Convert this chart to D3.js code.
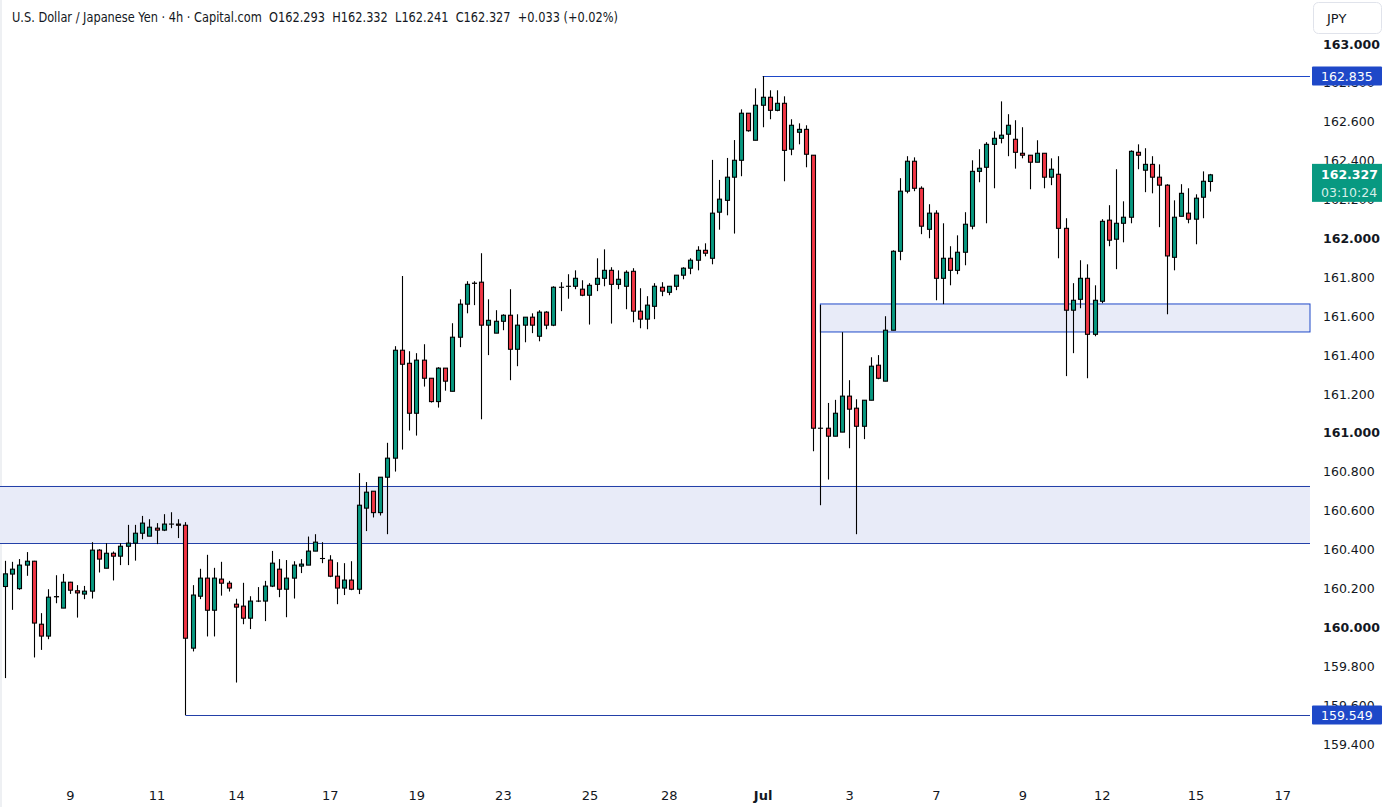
<!DOCTYPE html>
<html>
<head>
<meta charset="utf-8">
<script src="https://cdn.jsdelivr.net/npm/d3@7"></script>
<style>
  html, body { margin: 0; padding: 0; background: #fff; }
  svg { display: block; font-family: "DejaVu Sans", sans-serif; }
</style>
</head>
<body>
<div id="chart"></div>
<script>
const width = 1386;
const height = 807;

// OHLC data, 4h candles
const opens = [160.210,160.274,160.199,160.320,160.340,160.016,159.955,160.158,160.099,160.232,
160.188,160.171,160.186,160.397,160.304,160.381,160.366,160.417,160.433,160.484,
160.469,160.510,160.500,160.531,160.531,160.525,159.893,160.160,160.253,160.088,
160.248,160.227,160.119,160.109,160.047,160.135,160.135,160.212,160.299,160.196,
160.253,160.315,160.320,160.392,160.354,160.346,160.263,160.202,160.243,160.196,
160.613,160.700,160.590,160.772,160.870,161.425,161.358,161.101,161.374,161.281,
161.161,161.333,161.214,161.492,161.662,161.770,161.775,161.554,161.513,161.574,
161.605,161.430,161.554,161.595,161.497,161.621,161.554,161.749,161.754,161.754,
161.739,161.708,161.764,161.795,161.836,161.764,161.754,161.831,161.626,161.585,
161.651,161.749,161.723,161.754,161.811,161.847,161.888,161.939,161.898,162.135,
162.196,162.315,162.402,162.644,162.505,162.685,162.726,162.659,162.695,162.459,
162.546,162.561,162.428,161.024,161.024,160.983,161.004,161.189,161.127,161.034,
161.168,161.348,161.266,161.528,161.934,162.243,162.397,162.258,162.047,162.130,
161.795,161.898,161.836,161.929,162.063,162.345,162.366,162.484,162.515,162.536,
162.510,162.438,162.428,162.392,162.438,162.315,162.330,162.052,161.631,161.687,
161.795,161.507,161.677,162.094,161.996,162.078,162.109,162.443,162.351,162.381,
162.315,162.274,161.903,162.114,162.130,162.099,162.212,162.293];

const highs = [160.342,160.337,160.351,160.387,160.342,160.073,160.196,160.268,160.275,160.234,
160.217,160.213,160.438,160.402,160.433,160.390,160.433,160.527,160.527,160.573,
160.556,160.536,160.582,160.592,160.556,160.541,160.217,160.301,160.373,160.306,
160.337,160.239,160.147,160.229,160.160,160.207,160.239,160.393,160.351,160.346,
160.340,160.351,160.467,160.479,160.438,160.371,160.335,160.330,160.340,160.793,
160.747,160.700,160.772,160.949,161.446,161.807,161.420,161.410,161.456,161.281,
161.338,161.333,161.564,161.687,161.780,161.780,161.924,161.687,161.631,161.610,
161.739,161.610,161.595,161.615,161.631,161.626,161.754,161.775,161.816,161.836,
161.785,161.770,161.898,161.944,161.852,161.836,161.836,161.847,161.744,161.703,
161.770,161.775,161.754,161.811,161.852,161.898,161.960,161.975,162.404,162.301,
162.414,162.506,162.664,162.644,162.772,162.835,162.762,162.762,162.731,162.613,
162.592,162.582,162.428,161.658,161.154,161.170,161.518,161.271,161.173,161.168,
161.389,161.400,161.600,161.939,162.310,162.423,162.417,162.268,162.176,162.145,
162.078,161.960,162.016,162.135,162.402,162.459,162.495,162.551,162.705,162.639,
162.608,162.572,162.428,162.505,162.438,162.412,162.423,162.104,161.770,161.888,
161.867,161.759,162.099,162.171,162.356,162.191,162.453,162.484,162.464,162.423,
162.381,162.279,162.196,162.279,162.258,162.227,162.345,162.332];

const lows = [159.739,160.090,160.193,160.265,159.845,159.884,159.939,160.124,160.099,160.172,
160.050,160.145,160.148,160.282,160.304,160.241,160.320,160.320,160.343,160.453,
160.469,160.428,160.495,160.510,160.459,159.549,159.876,160.145,159.953,159.953,
160.163,160.184,159.716,160.016,159.991,160.130,160.032,160.207,160.155,160.052,
160.148,160.279,160.320,160.392,160.330,160.258,160.119,160.166,160.191,160.171,
160.495,160.565,160.575,160.479,160.801,160.914,161.012,160.986,161.238,161.156,
161.130,161.217,161.214,161.441,161.615,161.657,161.070,161.400,161.513,161.528,
161.271,161.343,161.466,161.513,161.471,161.533,161.549,161.626,161.690,161.739,
161.703,161.557,161.729,161.754,161.562,161.739,161.636,161.569,161.538,161.533,
161.585,161.703,161.708,161.734,161.790,161.816,161.836,161.908,161.867,162.045,
162.119,162.025,162.320,162.549,162.505,162.572,162.613,162.654,162.294,162.428,
162.484,162.366,160.906,160.628,160.760,160.983,161.004,160.921,160.479,160.968,
161.168,161.276,161.266,161.528,161.888,162.232,162.243,162.022,162.001,161.682,
161.662,161.759,161.816,161.862,162.047,162.289,162.078,162.258,162.489,162.423,
162.359,162.412,162.253,162.392,162.258,162.274,161.898,161.292,161.410,161.641,
161.281,161.497,161.667,161.960,161.842,161.980,162.078,162.356,162.238,162.232,
162.058,161.610,161.836,162.114,162.078,161.970,162.104,162.241];

const closes = [160.275,160.299,160.320,160.340,160.022,159.955,160.155,160.157,160.232,160.191,
160.177,160.186,160.397,160.351,160.381,160.366,160.417,160.433,160.484,160.536,
160.515,160.500,160.531,160.531,160.525,159.944,160.166,160.253,160.088,160.253,
160.227,160.202,160.104,160.047,160.135,160.135,160.212,160.330,160.196,160.253,
160.320,160.325,160.392,160.438,160.354,160.263,160.202,160.243,160.196,160.628,
160.695,160.590,160.772,160.870,161.425,161.353,161.101,161.374,161.281,161.161,
161.333,161.266,161.492,161.662,161.764,161.769,161.554,161.579,161.574,161.605,
161.430,161.554,161.595,161.554,161.621,161.554,161.749,161.749,161.754,161.795,
161.708,161.759,161.795,161.836,161.764,161.790,161.826,161.626,161.585,161.657,
161.754,161.729,161.754,161.811,161.847,161.888,161.939,161.924,162.130,162.202,
162.315,162.402,162.644,162.554,162.685,162.726,162.659,162.695,162.453,162.582,
162.561,162.433,161.024,161.024,160.983,161.101,161.189,161.122,161.034,161.168,
161.343,161.281,161.528,161.934,162.243,162.397,162.258,162.063,162.130,161.795,
161.898,161.836,161.929,162.073,162.345,162.361,162.484,162.515,162.531,162.582,
162.443,162.428,162.392,162.438,162.315,162.356,162.052,161.631,161.682,161.795,
161.507,161.682,162.088,161.991,162.078,162.109,162.448,162.428,162.381,162.315,
162.274,161.910,162.109,162.232,162.099,162.207,162.294,162.327];

// x-axis date labels (bar index of first candle of the day)
const dayTicks = [9, 21, 32, 45, 57, 69, 81, 92, 105, 117, 129, 141, 152, 165, 177];
const dayLabels = ["9", "11", "14", "17", "19", "23", "25", "28", "Jul", "3", "7", "9", "12", "15", "17"];

// price ticks
const priceTicks = d3.range(159.4, 163.0001, 0.2);

// drawings: zones and levels
const lowerZone = [160.434, 160.728];
const upperZone = [161.519, 161.663];
const upperZoneStart = 113;
const highLevel = { price: 162.835, from: 105 };
const lowLevel = { price: 159.549, from: 25 };
const lastPrice = 162.327;
const countdown = "03:10:24";

const titleText = "U.S. Dollar / Japanese Yen · 4h · Capital.com  O162.293  H162.332  L162.241  C162.327  +0.033 (+0.02%)";

const candles = opens.map((o, i) => ({ i, o, h: highs[i], l: lows[i], c: closes[i] }));

const plotRight = 1310;
const x = d3.scaleLinear().domain([0, 167]).range([5, 1210]);
const y = d3.scaleLinear().domain([159.4, 163]).range([744, 44]);

const up = "#089981", down = "#f23645", lineBlue = "#1e48c8", zoneFill = "#e8ebf8";

const svg = d3.select("#chart")
  .append("svg")
  .attr("width", width)
  .attr("height", height)
  .attr("viewBox", `0 0 ${width} ${height}`);

svg.append("rect").attr("width", width).attr("height", height).attr("fill", "#fff");
svg.append("rect").attr("x", 0).attr("y", 0).attr("width", 2).attr("height", height).attr("fill", "#eef0f3");

// zones
svg.append("rect")
  .attr("x", 0).attr("width", plotRight)
  .attr("y", y(lowerZone[1])).attr("height", y(lowerZone[0]) - y(lowerZone[1]))
  .attr("fill", zoneFill);
[lowerZone[0], lowerZone[1]].forEach(p => {
  svg.append("line").attr("x1", 0).attr("x2", plotRight)
    .attr("y1", Math.round(y(p)) + 0.5).attr("y2", Math.round(y(p)) + 0.5)
    .attr("stroke", "#2340a8").attr("stroke-width", 1);
});

svg.append("rect")
  .attr("x", x(upperZoneStart)).attr("width", plotRight - x(upperZoneStart))
  .attr("y", y(upperZone[1])).attr("height", y(upperZone[0]) - y(upperZone[1]))
  .attr("fill", zoneFill)
  .attr("stroke", lineBlue).attr("stroke-width", 1);

// level lines
[highLevel, lowLevel].forEach(lv => {
  svg.append("line")
    .attr("x1", x(lv.from)).attr("x2", plotRight)
    .attr("y1", Math.round(y(lv.price)) + 0.5).attr("y2", Math.round(y(lv.price)) + 0.5)
    .attr("stroke", lv === lowLevel ? "#2340a8" : lineBlue).attr("stroke-width", 1);
});

// candles
const g = svg.append("g");
g.selectAll("line.wick")
  .data(candles)
  .join("line")
  .attr("class", "wick")
  .attr("x1", d => Math.round(x(d.i)) + 0.5)
  .attr("x2", d => Math.round(x(d.i)) + 0.5)
  .attr("y1", d => y(d.h))
  .attr("y2", d => y(d.l))
  .attr("stroke", "#000")
  .attr("stroke-width", 1.1);

g.selectAll("rect.body")
  .data(candles)
  .join("rect")
  .attr("class", "body")
  .attr("x", d => Math.round(x(d.i)) - 1.5)
  .attr("width", 4)
  .attr("y", d => y(Math.max(d.o, d.c)))
  .attr("height", d => Math.max(0.01, Math.abs(y(d.o) - y(d.c))))
  .attr("fill", d => d.c >= d.o ? up : down)
  .attr("stroke", "#000")
  .attr("stroke-width", 1.1);

// y axis
const yAxis = svg.append("g")
  .attr("transform", `translate(${1318},0)`)
  .call(d3.axisRight(y).tickValues(priceTicks).tickSize(0).tickPadding(5).tickFormat(d3.format(".3f")));
yAxis.select(".domain").remove();
yAxis.selectAll("text")
  .attr("font-family", "DejaVu Sans, sans-serif")
  .attr("font-size", 12.5)
  .attr("fill", "#131722")
  .attr("font-weight", d => Math.abs(d - Math.round(d)) < 1e-6 ? "bold" : "normal");

// x axis
const xAxis = svg.append("g")
  .attr("transform", `translate(0,${785})`)
  .call(d3.axisBottom(x).tickValues(dayTicks).tickSize(0).tickPadding(6)
    .tickFormat((d, k) => dayLabels[k]));
xAxis.select(".domain").remove();
xAxis.selectAll("text")
  .attr("font-family", "DejaVu Sans, sans-serif")
  .attr("font-size", 13)
  .attr("fill", "#131722")
  .attr("font-weight", (d, k) => dayLabels[k] === "Jul" ? "bold" : "normal");

// price labels on the axis
function priceTag(p, fill) {
  const cy = y(p);
  svg.append("rect").attr("x", 1312).attr("y", cy - 9.5).attr("width", 70).attr("height", 19)
    .attr("fill", fill).attr("rx", 1);
  svg.append("text").attr("x", 1321).attr("y", cy).attr("dy", "0.36em")
    .attr("font-size", 12.5).attr("fill", "#fff").text(p.toFixed(3));
}
priceTag(highLevel.price, lineBlue);
priceTag(lowLevel.price, lineBlue);

// last price tag with countdown
{
  const cy = y(lastPrice);
  svg.append("rect").attr("x", 1312).attr("y", cy - 11).attr("width", 70).attr("height", 38)
    .attr("fill", up);
  svg.append("text").attr("x", 1321).attr("y", cy).attr("dy", "0.36em")
    .attr("font-size", 12.5).attr("font-weight", "bold").attr("fill", "#fff").text(lastPrice.toFixed(3));
  svg.append("text").attr("x", 1321).attr("y", cy + 18).attr("dy", "0.36em")
    .attr("font-size", 12.5).attr("fill", "#d5efe9").text(countdown);
}

// currency box
svg.append("rect").attr("x", 1313.5).attr("y", 2.5).attr("width", 68).attr("height", 31).attr("rx", 5)
  .attr("fill", "#fff").attr("stroke", "#e0e3eb");
svg.append("text").attr("x", 1327).attr("y", 18).attr("dy", "0.36em")
  .attr("font-size", 13).attr("fill", "#131722").text("JPY");

// title
svg.append("text")
  .attr("x", 12).attr("y", 17).attr("dy", "0.36em")
  .attr("font-family", "DejaVu Sans, sans-serif")
  .attr("font-size", 14)
  .attr("fill", "#131722")
  .attr("textLength", 606)
  .attr("lengthAdjust", "spacingAndGlyphs")
  .style("white-space", "pre")
  .text(titleText);
</script>
</body>
</html>
